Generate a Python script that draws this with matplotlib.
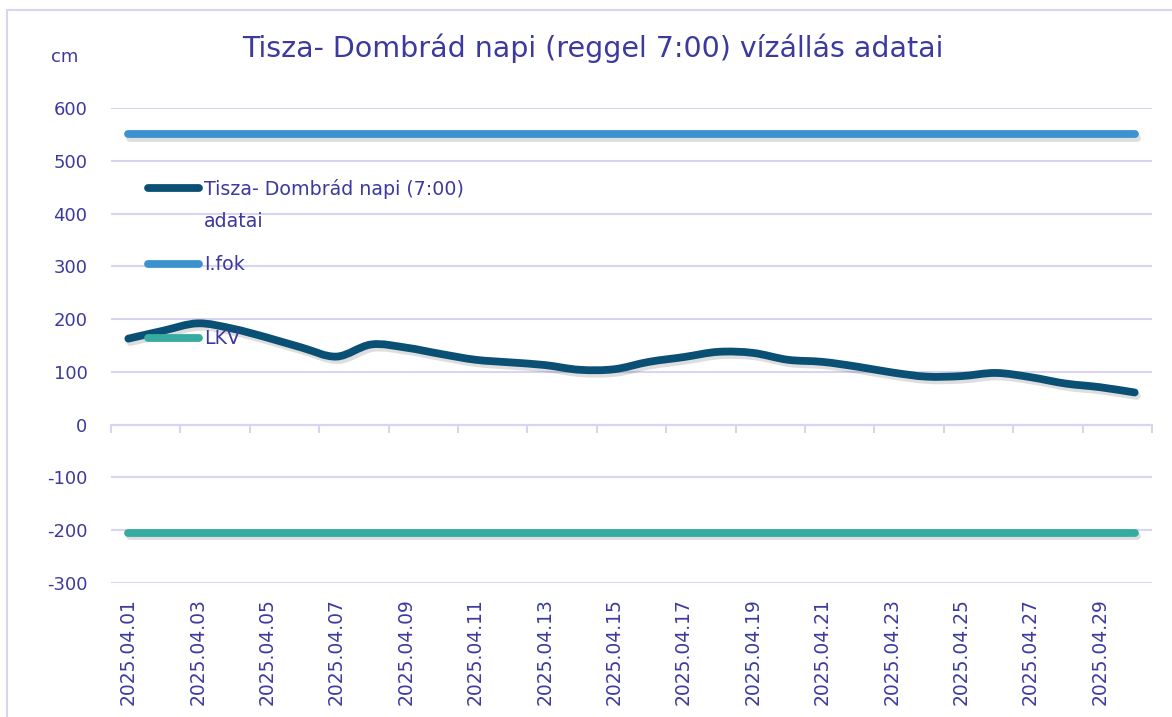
import numpy as np
import matplotlib
matplotlib.use("Agg")
import matplotlib.pyplot as plt
import matplotlib.patheffects as pe
from matplotlib.path import Path
from matplotlib.patches import PathPatch, Rectangle
from matplotlib.lines import Line2D

plt.rcParams["axes.unicode_minus"] = False

# daily readings at 7:00, April 2025 (cm)
days = list(range(1, 31))
levels = [163, 178, 192, 182, 165, 146, 129, 152, 146, 134,
          123, 118, 113, 104, 105, 119, 128, 138, 136, 123,
          119, 110, 99, 91, 92, 98, 90, 78, 71, 61]
ifok = 550   # I. fok alert level
lkv = -205   # LKV (lowest known level)
day_labels = ["2025.04.%02d" % d for d in days]

txt = "#3c3a9e"
grid_c = "#d9d5f0"
main_c = "#0a5075"
ifok_c = "#3b92cf"
lkv_c = "#36ab9f"
lw = 5.6

fig = plt.figure(figsize=(11.72, 7.17), dpi=100)
fig.patches.append(Rectangle((7 / 1172, -0.1), 1.2, 1 - 10 / 717 + 0.1,
                             transform=fig.transFigure, fill=False,
                             edgecolor=grid_c, linewidth=1.5))
ax = fig.add_axes([111 / 1172, 1 - 583 / 717, 1041 / 1172, 475 / 717])

ax.set_xlim(0.5, 30.5)
ax.set_ylim(-300, 600)
ax.set_yticks(range(-300, 601, 100))
ax.grid(axis="y", color=grid_c, linewidth=1.5)
ax.set_axisbelow(True)
for s in ax.spines.values():
    s.set_visible(False)
ax.tick_params(axis="y", length=0, pad=17, labelsize=13, labelcolor=txt)
ax.set_xticks(days[::2])
ax.set_xticklabels(day_labels[::2], rotation=90)
ax.tick_params(axis="x", length=0, pad=11, labelsize=13.5, labelcolor=txt)

# category axis sitting on zero, ticks between categories
sec = ax.secondary_xaxis(1 / 3)
sec.set_xticks(np.arange(0.5, 31, 2))
sec.set_xticklabels([])
sec.tick_params(axis="x", direction="out", length=6, width=1.5, color=grid_c)
sec.spines["bottom"].set_color(grid_c)
sec.spines["bottom"].set_linewidth(1.5)

shadow = [pe.SimpleLineShadow(offset=(1.5, -2.5), shadow_color="k", alpha=0.13),
          pe.Normal()]

ax.plot([days[0], days[-1]], [ifok, ifok], color=ifok_c, linewidth=lw,
        solid_capstyle="round", path_effects=shadow)
ax.plot([days[0], days[-1]], [lkv, lkv], color=lkv_c, linewidth=lw,
        solid_capstyle="round", path_effects=shadow)

# smoothed line as bezier curves through the readings (Excel style)
x = np.array(days, dtype=float)
y = np.array(levels, dtype=float)
verts = [(x[0], y[0])]
codes = [Path.MOVETO]
for i in range(len(x) - 1):
    x0, y0 = (x[i - 1], y[i - 1]) if i > 0 else (x[i], y[i])
    x3, y3 = (x[i + 2], y[i + 2]) if i + 2 < len(x) else (x[i + 1], y[i + 1])
    c1 = (x[i] + (x[i + 1] - x0) / 6, y[i] + (y[i + 1] - y0) / 6)
    c2 = (x[i + 1] - (x3 - x[i]) / 6, y[i + 1] - (y3 - y[i]) / 6)
    verts += [c1, c2, (x[i + 1], y[i + 1])]
    codes += [Path.CURVE4] * 3
curve = PathPatch(Path(verts, codes), fill=False, edgecolor=main_c,
                  linewidth=lw, capstyle="round", joinstyle="round",
                  path_effects=shadow)
ax.add_patch(curve)

# legend drawn inside the plot area
def ax_xy(px, py):
    return (px - 111) / 1041, (583 - py) / 475

legend_items = [("Tisza- Dombrád napi (7:00)\nadatai", main_c, 188),
                ("I.fok", ifok_c, 264),
                ("LKV", lkv_c, 338)]
for label, col, py in legend_items:
    xa, ya = ax_xy(148, py)
    xb, _ = ax_xy(199, py)
    ax.add_line(Line2D([xa, xb], [ya, ya], transform=ax.transAxes, color=col,
                       linewidth=lw, solid_capstyle="round"))
    xt, yt = ax_xy(204, py - 9)
    ax.text(xt, yt, label, transform=ax.transAxes, ha="left", va="top",
            fontsize=13.7, color=txt, linespacing=1.85)

fig.text(593 / 1172, 1 - 48 / 717, "Tisza- Dombrád napi (reggel 7:00) vízállás adatai",
         ha="center", va="center", fontsize=20.5, color=txt)
fig.text(65 / 1172, 1 - 57 / 717, "cm", ha="center", va="center",
         fontsize=13, color=txt)

fig.savefig("out.png", dpi=100)
